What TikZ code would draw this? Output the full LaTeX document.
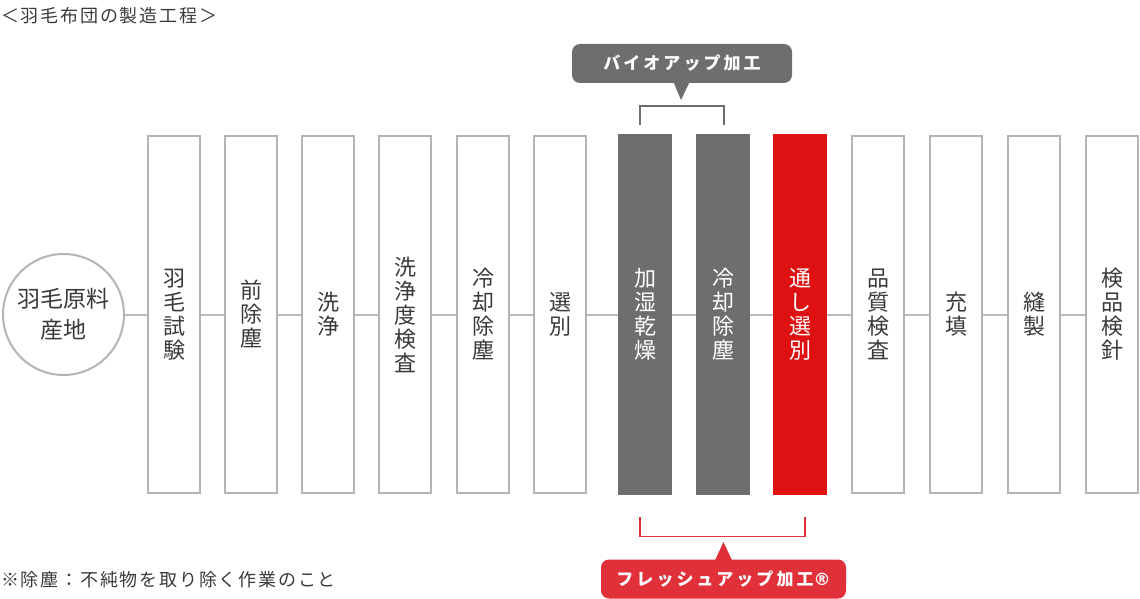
\documentclass[tikz,border=0pt]{standalone}
\usepackage{fontspec}
\setmainfont{Noto Sans CJK JP}
\newfontfamily\symfont{DejaVu Sans}
\usetikzlibrary{calc}
\definecolor{boxline}{HTML}{B4B4B4}
\definecolor{connline}{HTML}{BBBBBB}
\definecolor{txt}{HTML}{3A3A3A}
\definecolor{procgray}{HTML}{6E6E6E}
\definecolor{procred}{HTML}{DD1111}
\definecolor{callred}{HTML}{E0303A}
\begin{document}
\begin{tikzpicture}[x=1pt,y=-1pt,
  stepbox/.style={draw=boxline, line width=2pt, fill=white, minimum width=52pt, minimum height=357pt, inner sep=0pt, align=center, text=txt, font=\fontsize{22}{24}\selectfont},
  graybox/.style={stepbox, draw=procgray, fill=procgray, text=white, minimum height=359pt},
  redbox/.style={stepbox, draw=procred, fill=procred, text=white, minimum height=359pt},
  conn/.style={draw=connline, line width=2pt},
  origin/.style={circle, draw=boxline, line width=2pt, fill=white, minimum size=121pt, inner sep=0pt, align=center, text=txt, font=\fontsize{23}{31}\selectfont},
  callbox/.style={rounded corners=8pt, minimum width=220pt, minimum height=39pt, inner sep=0pt, text=white, font=\fontsize{17}{20}\selectfont\bfseries\addfontfeatures{LetterSpace=18}},
  bracketgray/.style={draw=procgray, line width=1.6pt},
  bracketred/.style={draw=callred, line width=1.6pt},
  plaintext/.style={inner sep=0pt, anchor=west, text=txt, font=\fontsize{18}{22}\selectfont\addfontfeatures{LetterSpace=10}}
]
\useasboundingbox (0,0) rectangle (1140,599);

% title and note
\node[plaintext] (title) at (1,16) {＜羽毛布団の製造工程＞};
\node[plaintext] (note) at (1,580) {※除塵：不純物を取り除く作業のこと};

% origin
\node[origin] (c) at (63.5,314.5) {羽毛原料\\産地};

% steps
\node[stepbox] (b1) at (174,314.5) {羽\\毛\\試\\験};
\node[stepbox] (b2) at (251,314.5) {前\\除\\塵};
\node[stepbox] (b3) at (328,314.5) {洗\\浄};
\node[stepbox] (b4) at (405,314.5) {洗\\浄\\度\\検\\査};
\node[stepbox] (b5) at (483,314.5) {冷\\却\\除\\塵};
\node[stepbox] (b6) at (560,314.5) {選\\別};
\node[graybox] (b7) at (645,314.5) {加\\湿\\乾\\燥};
\node[graybox] (b8) at (723,314.5) {冷\\却\\除\\塵};
\node[redbox]  (b9) at (800,314.5) {通\\し\\選\\別};
\node[stepbox] (b10) at (878,314.5) {品\\質\\検\\査};
\node[stepbox] (b11) at (956,314.5) {充\\填};
\node[stepbox] (b12) at (1034,314.5) {縫\\製};
\node[stepbox] (b13) at (1112,314.5) {検\\品\\検\\針};

% connectors
\draw[conn] (c) -- (b1);
\draw[conn] (b1) -- (b2);
\draw[conn] (b2) -- (b3);
\draw[conn] (b3) -- (b4);
\draw[conn] (b4) -- (b5);
\draw[conn] (b5) -- (b6);
\draw[conn] (b6) -- (b7);
\draw[conn] (b7) -- (b8);
\draw[conn] (b8) -- (b9);
\draw[conn] (b9) -- (b10);
\draw[conn] (b10) -- (b11);
\draw[conn] (b11) -- (b12);
\draw[conn] (b12) -- (b13);

% bio callout
\node[callbox, fill=procgray] (bio) at (682,63.5) {バイオアップ加工};
\fill[procgray] ($(bio.south)+(-8.5,-1)$) -- (681,100) -- ($(bio.south)+(7.5,-1)$) -- cycle;
\coordinate (gl) at (640,125);
\coordinate (gr) at (724,125);
\draw[bracketgray] (gl) -- (640,106) -- (724,106) -- (gr);

% fresh-up callout
\node[callbox, fill=callred, minimum width=245pt] (fresh) at (723.5,579) {フレッシュアップ加工{\symfont\bfseries ®}};
\fill[callred] ($(fresh.north)+(-8.5,1)$) -- (723.5,542) -- ($(fresh.north)+(8.5,1)$) -- cycle;
\coordinate (rl) at (640,517);
\coordinate (rr) at (805,517);
\draw[bracketred] (rl) -- (640,536.5) -- (805,536.5) -- (rr);
\end{tikzpicture}
\end{document}
